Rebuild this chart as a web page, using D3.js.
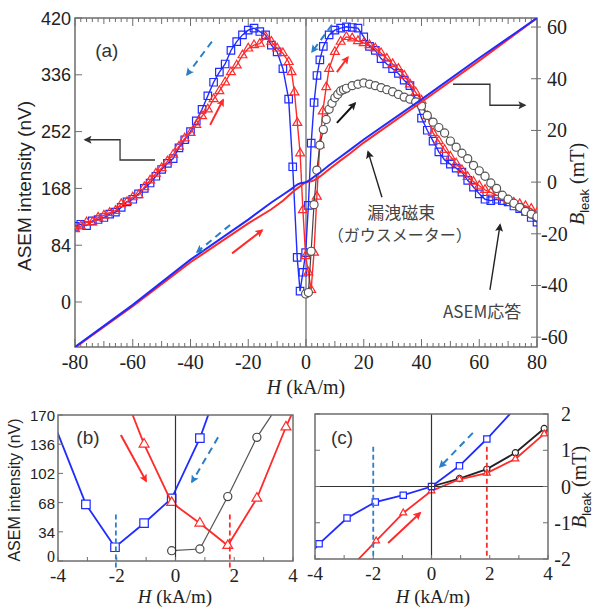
<!DOCTYPE html>
<html><head><meta charset="utf-8">
<script src="https://cdn.jsdelivr.net/npm/d3@7/dist/d3.min.js"></script>
<style>
body{margin:0;background:#fff;}
svg{display:block;}
</style></head><body>
<svg id="chart" width="606" height="608"></svg>
<script>
// ---- data (H in kA/m) ----
// ASEM intensity, descending field (blue squares)
var downH = [-80,-78,-76,-74,-72,-70,-68,-66,-64,-62,-60,-58,-56,-54,-52,-50,-48,-46,-44,-42,-40,-38,-36,-34,-32,-30,-28,-26,-24,-22,-20,-18,-16,-14,-12,-10,-8,-6,
  -4.6,-3.05,-2.06,-1.07,-0.13,0.83,1.8,2.8,3.8,4.8,
  6,8,10,12,14,16,18,20,22,24,26,28,30,32,34,36,38,40,42,44,46,48,50,52,54,56,58,60,62,64,66,68,70,72,74,76,78,80];
var downASEM = [112,115,113,120,122,125,130,133,140,148,152,160,168,176,186,196,205,212,228,240,252,268,285,305,325,340,352,372,385,395,402,405,400,395,380,370,345,300,
  200,66,16,44,73,143,235,295,335,358,
  378,395,402,405,407,406,405,392,378,372,360,352,345,338,328,320,300,272,254,238,222,210,204,198,192,180,170,160,152,150,152,150,148,142,138,134,125,118];
// ASEM intensity, ascending field (red triangles)
var upH = [-80,-78,-76,-74,-72,-70,-68,-66,-64,-62,-60,-58,-56,-54,-52,-50,-48,-46,-44,-42,-40,-38,-36,-34,-32,-30,-28,-26,-24,-22,-20,-18,-16,-14,-12,-10,-8,-6,
  -5,-4,-3,-2.03,-1.07,-0.13,0.83,1.78,2.77,3.76,4.76,5.8,7,
  8,10,12,14,16,18,20,22,24,26,28,30,32,34,36,38,40,42,44,46,48,50,52,54,56,58,60,62,64,66,68,70,72,74,76,78,80];
var upASEM = [108,112,118,118,125,128,132,135,145,148,155,158,170,180,190,198,208,218,230,242,250,262,275,285,300,312,325,340,350,365,375,380,382,392,385,375,368,355,
  340,310,265,220,136,68,44,18,73,156,232,282,318,
  345,370,385,392,390,386,383,380,375,368,360,352,345,335,322,310,298,275,250,238,225,215,205,195,185,178,172,166,162,158,155,150,147,145,142,138,132];
// ASEM intensity, initial magnetisation (gray circles)
var initH = [-0.13,0.83,1.78,2.77,3.76,4.8,6,7,8,9,10,11,12,13,14,
  16,18,20,22,24,26,28,30,32,34,36,38,40,42,44,46,48,50,52,54,56,58,60,62,64,66,68,70,72,74,76,78,80];
var initASEM = [12,14,75,144,195,232,255,270,285,294,302,307,312,314,316,
  320,322,324,322,320,317,314,311,307,303,300,296,290,276,266,258,250,238,229,220,212,202,194,186,176,168,158,152,146,140,134,130,126];
// leakage flux B_leak (mT), gaussmeter
var bDownH = [-80,-60,-40,-20,-12,-8,-5,-3.86,-2.9,-1.93,-0.97,0,0.96,1.9,2.9,5,8,12,15,20,40,60,80];
var bDown  = [-63.8,-47.5,-30,-14.5,-7.9,-4.9,-2.6,-1.58,-0.87,-0.43,-0.24,0,0.57,1.31,2.18,3.8,6.5,9.8,12.3,16.5,32,48,63.5];
var bUpH = [-80,-60,-40,-20,-12,-8,-5,-3.86,-2.9,-1.9,-0.97,0,0.96,1.9,2.88,3.87,5,8,12,15,20,40,60,80];
var bUp  = [-64,-48,-31,-16,-10.5,-7.2,-4.2,-3.1,-2.33,-1.5,-0.73,-0.12,0.2,0.37,0.76,1.45,2.3,5,8.4,10.9,15.3,31,47,63.5];
var bInitH = [0,0.96,1.9,2.88,3.87];
var bInit  = [0,0.22,0.48,0.93,1.6];
// coercive field markers in (b),(c)
var hcDown = -2.03, hcUp = 1.85;

var mainXTicks = [-80,-60,-40,-20,0,20,40,60,80];
var mainYLTicks = [0,84,168,252,336,420];
var mainYRTicks = [-60,-40,-20,0,20,40,60];
var zoomXTicks = [-4,-2,0,2,4];
var bYTicks = [0,34,68,102,136,170];
var cYTicks = [-2,-1,0,1,2];

var BLUE = '#1f2bff', RED = '#ff2a2a', GRAY = '#444', DBLUE = '#2a80c8', AX = '#6e6e6e';
var SANS = '"Liberation Sans", Arial, sans-serif';
var SERIF = '"Liberation Serif", "DejaVu Serif", "Times New Roman", serif';
var JP = '"Noto Sans CJK JP", sans-serif';

var svg = d3.select('#chart');
var defs = svg.append('defs');
function head(id, color){
  defs.append('marker').attr('id', id).attr('viewBox', '0 0 10 10').attr('refX', 8).attr('refY', 5)
    .attr('markerWidth', 9).attr('markerHeight', 8).attr('markerUnits', 'userSpaceOnUse').attr('orient', 'auto')
    .append('path').attr('d', 'M0,0L10,5L0,10L2,5z').attr('fill', color);
}
head('hBlue', DBLUE); head('hRed', RED); head('hBlack', '#222'); head('hGray', '#333');

function clip(id, x0, y0, x1, y1){
  defs.append('clipPath').attr('id', id).append('rect')
    .attr('x', x0).attr('y', y0).attr('width', x1 - x0).attr('height', y1 - y0);
}

function txt(g, font, size, x, y, s, anchor){
  return g.append('text').attr('font-family', font).attr('font-size', size).attr('x', x).attr('y', y)
    .attr('text-anchor', anchor || 'middle').attr('fill', '#222').text(s);
}

function series(g, x, y, hs, vs, o){
  var pts = hs.map(function(h, i){ return [x(h), y(vs[i])]; });
  g.append('path').attr('d', d3.line()(pts)).attr('fill', 'none')
    .attr('stroke', o.line || o.color).attr('stroke-width', o.lw || 1.4);
  if (o.shape){
    var sym = d3.symbol().type(o.shape).size(o.size);
    g.selectAll(null).data(pts).enter().append('path').attr('d', sym)
      .attr('transform', function(p){ return 'translate(' + p + ')'; })
      .attr('fill', o.fill || 'none').attr('stroke', o.color).attr('stroke-width', o.sw || 1.2);
  }
}

function arrow(g, pts, color, id, dashed, w){
  g.append('path').attr('d', d3.line()(pts)).attr('fill', 'none').attr('stroke', color)
    .attr('stroke-width', w || 2).attr('stroke-dasharray', dashed ? '7,5' : null)
    .attr('marker-end', 'url(#' + id + ')');
}

function frame(g, x0, y0, x1, y1){
  g.append('rect').attr('x', x0).attr('y', y0).attr('width', x1 - x0).attr('height', y1 - y0)
    .attr('fill', 'none').attr('stroke', AX).attr('stroke-width', 1.5);
}

function hLabel(g, cx, base, size){
  var t = g.append('text').attr('font-family', SERIF).attr('x', cx).attr('y', base)
    .attr('text-anchor', 'middle').attr('font-size', size || 20).attr('fill', '#222');
  t.append('tspan').attr('font-style', 'italic').text('H');
  t.append('tspan').text(' (kA/m)');
}
function bLabel(g, cx, cy){
  var t = g.append('text').attr('font-family', SERIF).attr('transform', 'translate(' + cx + ',' + cy + ') rotate(-90)')
    .attr('text-anchor', 'middle').attr('font-size', 20).attr('fill', '#222');
  t.append('tspan').attr('font-style', 'italic').text('B');
  t.append('tspan').attr('font-family', SANS).attr('font-size', 13).attr('dy', 5).text('leak');
  t.append('tspan').attr('dy', -5).text(' (mT)');
}

// ================= panel (a) =================
var xa = d3.scaleLinear().domain([-80, 80]).range([75, 537]);
var yL = d3.scaleLinear().domain([-66.5, 420]).range([347, 18]);
var yR = d3.scaleLinear().domain([-63.8, 63.5]).range([347, 18]);
var ga = svg.append('g');
clip('clipA', 75, 18, 537, 347);

// ticks
d3.range(-80, 81, 2).forEach(function(h){
  var len = h % 20 === 0 ? 8 : (h % 10 === 0 ? 6 : 4);
  ga.append('line').attr('x1', xa(h)).attr('x2', xa(h)).attr('y1', 347).attr('y2', 347 - len).attr('stroke', AX);
  ga.append('line').attr('x1', xa(h)).attr('x2', xa(h)).attr('y1', 18).attr('y2', 18 + len).attr('stroke', AX);
});
mainYLTicks.forEach(function(v){
  ga.append('line').attr('x1', 75).attr('x2', 82).attr('y1', yL(v)).attr('y2', yL(v)).attr('stroke', AX);
  txt(ga, v === 0 ? SERIF : SANS, v === 0 ? 20 : 18, 71, yL(v) + 6.5, v, 'end');
});
mainYRTicks.forEach(function(v){
  ga.append('line').attr('x1', 531).attr('x2', 541).attr('y1', yR(v)).attr('y2', yR(v)).attr('stroke', AX);
  txt(ga, SERIF, 20, v < 0 ? 541 : 547, yR(v) + 7, v, 'start');
});
mainXTicks.forEach(function(h){
  txt(ga, SERIF, 20, xa(h), 369, h);
});
ga.append('line').attr('x1', xa(0)).attr('x2', xa(0)).attr('y1', 18).attr('y2', 347).attr('stroke', AX).attr('stroke-width', 1.3);
frame(ga, 75, 18, 537, 347);

var pa = ga.append('g').attr('clip-path', 'url(#clipA)');
series(pa, xa, yL, downH, downASEM, {color: BLUE, shape: d3.symbolSquare, size: 56});
series(pa, xa, yL, upH, upASEM, {color: RED, shape: d3.symbolTriangle, size: 34});
series(pa, xa, yL, initH, initASEM, {color: '#555', line: '#444', shape: d3.symbolCircle, size: 52, fill: '#fff', lw: 1.2});
series(pa, xa, yR, bUpH, bUp, {color: RED, lw: 2});
series(pa, xa, yR, bDownH, bDown, {color: BLUE, lw: 2});

// annotations (data coordinates)
function pA(h, v){ return [xa(h), yL(v)]; }
arrow(ga, [pA(-32.6, 385), pA(-41.2, 336)], DBLUE, 'hBlue', true);
arrow(ga, [pA(-33.2, 262), pA(-28.7, 299)], RED, 'hRed', false);
arrow(ga, [pA(-26.3, 114), pA(-37.7, 74)], DBLUE, 'hBlue', true);
arrow(ga, [pA(-25.6, 72), pA(-15.2, 106)], RED, 'hRed', false);
arrow(ga, [pA(9, 410), pA(2.1, 370)], DBLUE, 'hBlue', true);
arrow(ga, [pA(10.7, 340), pA(14.5, 362)], RED, 'hRed', false);
arrow(ga, [pA(10.7, 265), pA(17, 294)], '#111', 'hBlack', false);
arrow(ga, [pA(-52.3, 210), pA(-64.4, 210), pA(-64.4, 240), pA(-76.5, 240)], '#333', 'hGray', false, 1.3);
arrow(ga, [pA(50.9, 322), pA(63.7, 322), pA(63.7, 291), pA(75.8, 291)], '#333', 'hGray', false, 1.3);
arrow(ga, [pA(26.3, 155), pA(21.5, 222)], '#222', 'hBlack', false, 1.4);
arrow(ga, [pA(63.7, 18), pA(67.2, 114)], '#222', 'hBlack', false, 1.4);

txt(ga, SANS, 19, xa(-69), yL(373) + 7, '(a)').attr('fill', '#333');
txt(ga, JP, 17, xa(33), yL(132) + 6, '漏洩磁束').attr('fill', '#444');
txt(ga, JP, 16, xa(32.5), yL(99) + 6, '（ガウスメーター）').attr('fill', '#444');
txt(ga, JP, 17, xa(61), yL(-15) + 6, 'ASEM応答').attr('fill', '#444');

ga.append('text').attr('font-family', SANS).attr('transform', 'translate(31,186) rotate(-90)')
  .attr('text-anchor', 'middle').attr('font-size', 19).attr('fill', '#222').text('ASEM intensity (nV)');
bLabel(ga, 584, 184);
hLabel(ga, 306, 394);

// ================= panel (b) =================
var xb = d3.scaleLinear().domain([-4, 4]).range([58, 293]);
var yb = d3.scaleLinear().domain([0, 170]).range([561, 415]);
var gb = svg.append('g');
clip('clipB', 58, 415, 293, 561);
var pb = gb.append('g').attr('clip-path', 'url(#clipB)');
gb.append('line').attr('x1', xb(0)).attr('x2', xb(0)).attr('y1', 415).attr('y2', 561).attr('stroke', '#333').attr('stroke-width', 1.2);
bYTicks.forEach(function(v){
  gb.append('line').attr('x1', 58).attr('x2', 63).attr('y1', yb(v)).attr('y2', yb(v)).attr('stroke', AX);
  txt(gb, v === 0 ? SERIF : SANS, v === 0 ? 16 : 15, 55, yb(v) + (v === 0 ? 1 : 6), v, 'end');
});
d3.range(-4, 5, 1).forEach(function(h){
  gb.append('line').attr('x1', xb(h)).attr('x2', xb(h)).attr('y1', 561).attr('y2', 557).attr('stroke', AX);
});
zoomXTicks.forEach(function(h){
  txt(gb, SERIF, 19, xb(h), 582, h);
});
frame(gb, 58, 415, 293, 561);
series(pb, xb, yb, downH, downASEM, {color: BLUE, shape: d3.symbolSquare, size: 72, fill: '#fff', lw: 1.8});
series(pb, xb, yb, upH, upASEM, {color: RED, shape: d3.symbolTriangle, size: 42, fill: '#fff', lw: 1.8});
series(pb, xb, yb, initH, initASEM, {color: GRAY, line: '#555', shape: d3.symbolCircle, size: 52, fill: '#fff', lw: 1.2});
gb.append('line').attr('x1', xb(hcDown)).attr('x2', xb(hcDown)).attr('y1', yb(54)).attr('y2', 570)
  .attr('stroke', DBLUE).attr('stroke-width', 1.8).attr('stroke-dasharray', '5,3');
gb.append('line').attr('x1', xb(hcUp)).attr('x2', xb(hcUp)).attr('y1', yb(54)).attr('y2', 570)
  .attr('stroke', RED).attr('stroke-width', 1.8).attr('stroke-dasharray', '5,3');
arrow(gb, [[xb(-1.86), yb(146.7)], [xb(-1.0), yb(93)]], RED, 'hRed', false);
arrow(gb, [[xb(1.45), yb(144)], [xb(0.56), yb(92)]], DBLUE, 'hBlue', true);
txt(gb, SANS, 19, xb(-2.98), yb(144) + 7, '(b)').attr('fill', '#333');
gb.append('text').attr('font-family', SANS).attr('transform', 'translate(20,490) rotate(-90)')
  .attr('text-anchor', 'middle').attr('font-size', 16).attr('fill', '#222').text('ASEM intensity (nV)');
hLabel(gb, 175, 603, 19);

// ================= panel (c) =================
var xc = d3.scaleLinear().domain([-4, 4]).range([315, 548]);
var yc = d3.scaleLinear().domain([-2, 2]).range([559, 414]);
var gc = svg.append('g');
clip('clipC', 315, 414, 548, 559);
var pc = gc.append('g').attr('clip-path', 'url(#clipC)');
gc.append('line').attr('x1', xc(0)).attr('x2', xc(0)).attr('y1', 414).attr('y2', 559).attr('stroke', '#333').attr('stroke-width', 1.2);
gc.append('line').attr('x1', 315).attr('x2', 548).attr('y1', yc(0)).attr('y2', yc(0)).attr('stroke', '#333').attr('stroke-width', 1.2);
cYTicks.forEach(function(v){
  gc.append('line').attr('x1', 315).attr('x2', 320).attr('y1', yc(v)).attr('y2', yc(v)).attr('stroke', AX);
  gc.append('line').attr('x1', 543).attr('x2', 548).attr('y1', yc(v)).attr('y2', yc(v)).attr('stroke', AX);
  txt(gc, SERIF, 20, 571, yc(v) + 7, v, 'end');
});
d3.range(-4, 5, 1).forEach(function(h){
  gc.append('line').attr('x1', xc(h)).attr('x2', xc(h)).attr('y1', 559).attr('y2', 555).attr('stroke', AX);
});
zoomXTicks.forEach(function(h){
  txt(gc, SERIF, 19, xc(h), 580, h);
});
frame(gc, 315, 414, 548, 559);
gc.append('line').attr('x1', xc(-2)).attr('x2', xc(-2)).attr('y1', yc(1.1)).attr('y2', 559)
  .attr('stroke', DBLUE).attr('stroke-width', 1.8).attr('stroke-dasharray', '5,3');
gc.append('line').attr('x1', xc(1.9)).attr('x2', xc(1.9)).attr('y1', yc(1.1)).attr('y2', 559)
  .attr('stroke', RED).attr('stroke-width', 1.8).attr('stroke-dasharray', '5,3');
series(pc, xc, yc, bInitH, bInit, {color: '#222', shape: d3.symbolCircle, size: 30, fill: '#fff', lw: 1.8});
series(pc, xc, yc, bUpH, bUp, {color: RED, shape: d3.symbolTriangle, size: 20, fill: '#fff', lw: 1.8});
series(pc, xc, yc, bDownH, bDown, {color: BLUE, shape: d3.symbolSquare, size: 40, fill: '#fff', lw: 1.8});
arrow(gc, [[xc(1.42), yc(1.48)], [xc(0.29), yc(0.54)]], DBLUE, 'hBlue', true);
arrow(gc, [[xc(-1.49), yc(-1.56)], [xc(-0.39), yc(-0.73)]], RED, 'hRed', false);
txt(gc, SANS, 19, xc(-3.07), yc(1.37) + 7, '(c)').attr('fill', '#333');
bLabel(gc, 586, 487);
hLabel(gc, 433, 603, 19);
</script>
</body></html>
